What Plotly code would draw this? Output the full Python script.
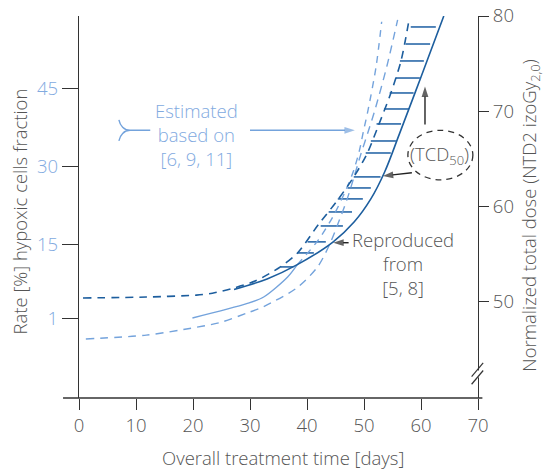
import plotly.graph_objects as go

# ---------------- data ----------------
x_ticks = [0, 10, 20, 30, 40, 50, 60, 70]
left_ticks = [1, 15, 30, 45]          # hypoxic cells fraction [%]
right_ticks = [50, 60, 70, 80]        # normalized total dose

# dark blue dashed curve (upper bound of reproduced TCD50)
upper_dash_days = [0.7, 11.8, 20.6, 23.4, 26.9, 31.0, 35.4, 38.3, 42.0, 45.4, 48.2, 50.5, 52.4, 54.7, 56.5, 57.9]
upper_dash_dose = [50.4, 50.5, 50.7, 50.9, 51.4, 52.2, 53.7, 55.1, 58.1, 60.7, 63.1, 65.5, 68.3, 71.9, 75.3, 79.6]

# dark blue solid curve (reproduced from [5, 8])
repro_days = [27.2, 33.0, 38.3, 44.6, 48.3, 51.2, 53.6, 56.2, 60.0, 64.0]
repro_dose = [51.3, 52.4, 53.9, 56.3, 58.4, 60.8, 63.6, 67.6, 73.6, 80.0]

# light blue solid curve (estimated) and its dashed continuation
est_days = [19.9, 29.4, 32.4, 36.6, 38.3]
est_dose = [48.3, 49.8, 50.5, 52.6, 53.9]
est_cont_days = [38.3, 42.0, 44.7, 46.8, 48.2, 49.2, 49.9, 50.7, 52.1, 53.1]
est_cont_dose = [53.9, 56.5, 59.1, 61.7, 63.8, 65.9, 67.9, 70.1, 74.6, 79.4]

# light blue dashed lower curve
lower_dash_days = [1.2, 11.8, 19.4, 24.6, 29.4, 32.4, 38.3, 41.9, 44.1, 45.7, 47.0, 48.2, 49.4, 50.7, 51.9, 54.0, 55.9]
lower_dash_dose = [46.1, 46.5, 47.2, 47.8, 48.8, 49.5, 51.5, 53.7, 56.2, 58.6, 60.7, 63.0, 65.4, 67.8, 70.1, 74.7, 79.6]

# horizontal hatching between the dark curves
hatch_dose = [78.85, 77.06, 75.28, 73.49, 71.92, 70.24, 68.67, 66.88, 65.62, 63.11, 61.95, 60.80, 59.43, 57.96, 56.29, 55.13, 53.66]
hatch_from = [58.2, 57.3, 56.3, 55.6, 54.5, 53.5, 52.2, 51.2, 50.3, 48.2, 47.1, 45.4, 43.8, 42.4, 40.1, 38.3, 35.4]
hatch_to = [62.6, 61.6, 60.5, 59.8, 58.7, 57.9, 56.5, 55.6, 54.7, 52.9, 51.2, 49.8, 47.9, 46.3, 43.3, 41.2, 37.6]

# ---------------- style ----------------
DARK = "#1d5e9e"
HATCH = "#2a68a8"
LIGHT = "#74a3dc"
LIGHT_TXT = "#82aadf"
AX = "#333333"
TXT = "#555555"
ARROW = "#222222"
FONT = "Open Sans"
FS = 18.5

fig = go.Figure()

# hatch segments
hx, hy = [], []
for d, a, b in zip(hatch_dose, hatch_from, hatch_to):
    hx += [a, b, None]
    hy += [d, d, None]
fig.add_trace(go.Scatter(x=hx, y=hy, mode="lines", yaxis="y2",
                         line=dict(color=HATCH, width=1.6), hoverinfo="skip"))

fig.add_trace(go.Scatter(x=lower_dash_days, y=lower_dash_dose, mode="lines", yaxis="y2",
                         line=dict(color=LIGHT, width=1.4, dash="8px,6px", shape="spline", smoothing=0.8)))
fig.add_trace(go.Scatter(x=est_days, y=est_dose, mode="lines", yaxis="y2",
                         line=dict(color=LIGHT, width=1.4, shape="spline", smoothing=0.8)))
fig.add_trace(go.Scatter(x=est_cont_days, y=est_cont_dose, mode="lines", yaxis="y2",
                         line=dict(color=LIGHT, width=1.4, dash="7px,6px", shape="spline", smoothing=0.8)))
fig.add_trace(go.Scatter(x=upper_dash_days, y=upper_dash_dose, mode="lines", yaxis="y2",
                         line=dict(color=DARK, width=1.6, dash="8px,6px", shape="spline", smoothing=0.8)))
fig.add_trace(go.Scatter(x=repro_days, y=repro_dose, mode="lines", yaxis="y2",
                         line=dict(color=DARK, width=1.6, shape="spline", smoothing=1.0)))
# dummy trace to keep the left axis
fig.add_trace(go.Scatter(x=[None], y=[None], yaxis="y", mode="lines"))


# pointer arrows (tail -> tip), drawn as line + arrow-head marker
def pointer(x0, y0, x1, y1, color):
    fig.add_trace(go.Scatter(
        x=[x0, x1], y=[y0, y1], mode="lines+markers", yaxis="y2", hoverinfo="skip",
        line=dict(color=color, width=1.4),
        marker=dict(symbol="arrow", size=[0, 11], angleref="previous", color=color,
                    line=dict(width=0)),
    ))


pointer(30.0, 68.0, 48.4, 68.0, LIGHT)     # "Estimated" arrow
pointer(47.3, 56.2, 44.6, 56.2, ARROW)     # "Reproduced" arrow
pointer(60.7, 68.6, 60.7, 72.6, ARROW)     # TCD50 up arrow
pointer(58.4, 63.55, 53.3, 63.2, ARROW)    # TCD50 left arrow

annotations = [
    # axis titles
    dict(text="Overall treatment time [days]", xref="paper", yref="paper", x=0.511, y=-0.1545,
         xanchor="center", yanchor="middle", showarrow=False, font=dict(color=TXT)),
    dict(text="Rate [%] hypoxic cells fraction", xref="paper", yref="paper", x=-0.1479, y=0.488,
         xanchor="center", yanchor="middle", textangle=-90, showarrow=False, font=dict(color=TXT)),
    dict(text="Normalized total dose (NTD2 izoGy<sub>2,0</sub>)", xref="paper", yref="paper",
         x=1.131, y=0.478, xanchor="center", yanchor="middle", textangle=-90, showarrow=False,
         font=dict(color=TXT)),
    # labels
    dict(text="Estimated<br>based on<br>[6, 9, 11]", xref="x", yref="y2", x=20.7, y=67.6,
         xanchor="center", yanchor="middle", showarrow=False, font=dict(color=LIGHT_TXT)),
    dict(text="Reproduced<br>from<br>[5, 8]", xref="x", yref="y2", x=56.8, y=54.0,
         xanchor="center", yanchor="middle", showarrow=False, font=dict(color=TXT)),
    dict(text="(TCD<sub>50</sub>)", xref="x", yref="y2", x=63.3, y=65.4,
         xanchor="center", yanchor="middle", showarrow=False, font=dict(color=TXT)),
]

shapes = [
    # extended bottom axis line
    dict(type="line", xref="paper", yref="paper", x0=-0.04, x1=1.011, y0=0, y1=0,
         line=dict(color=AX, width=1.3), layer="above"),
    # axis break on the right axis
    dict(type="rect", xref="paper", yref="paper", x0=0.986, x1=1.008, y0=0.054, y1=0.072,
         fillcolor="white", line=dict(width=0), layer="above"),
    dict(type="line", xref="paper", yref="paper", x0=0.984, y0=0.056, x1=1.013, y1=0.092,
         line=dict(color=AX, width=1.2), layer="above"),
    dict(type="line", xref="paper", yref="paper", x0=0.984, y0=0.036, x1=1.013, y1=0.072,
         line=dict(color=AX, width=1.2), layer="above"),
    # bracket in front of "Estimated"
    dict(type="path", xref="x", yref="y2",
         path="M 7.0,69.1 C 7.2,68.5 7.9,68.0 8.95,68.0 L 12.5,68.0 M 7.0,66.9 C 7.2,67.5 7.9,68.0 8.95,68.0",
         line=dict(color=LIGHT, width=1.4)),
    # dashed ellipse around TCD50
    dict(type="circle", xref="x", yref="y2", x0=57.7, x1=69.1, y0=62.8, y1=68.0,
         line=dict(color=AX, width=1.3, dash="6px,5px")),
]

fig.update_layout(
    width=546, height=470, autosize=False,
    margin=dict(l=79, r=68, t=16, b=72, autoexpand=False),
    paper_bgcolor="white", plot_bgcolor="white",
    showlegend=False,
    font=dict(family=FONT, size=FS, color=TXT, weight=300),
    xaxis=dict(range=[0, 70], tickvals=x_ticks, ticks="outside", ticklen=11, tickwidth=1.3,
               tickcolor=AX, showline=False, showgrid=False, zeroline=False, automargin=False,
               tickfont=dict(color=TXT, size=FS)),
    yaxis=dict(range=[-14.3, 58.8], tickvals=left_ticks, ticks="outside", ticklen=16, tickwidth=1.3,
               tickcolor=AX, showline=True, linecolor=AX, linewidth=1.3, showgrid=False,
               zeroline=False, automargin=False, tickfont=dict(color=LIGHT_TXT, size=FS)),
    yaxis2=dict(range=[39.9, 80], tickvals=right_ticks, overlaying="y", side="right", anchor="x",
                ticks="outside", ticklen=10, tickwidth=1.3, tickcolor=AX, showline=True,
                linecolor=AX, linewidth=1.3, showgrid=False, zeroline=False, automargin=False,
                tickfont=dict(color=TXT, size=FS)),
    annotations=annotations,
    shapes=shapes,
)

fig.write_html("out.html", config={"displayModeBar": False},
               post_script="document.body.style.margin='0';")
